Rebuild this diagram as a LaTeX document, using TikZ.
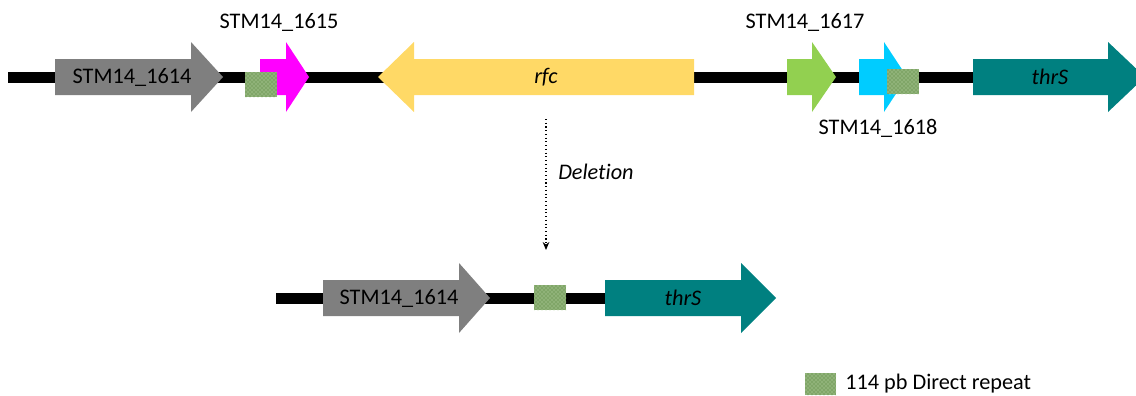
\documentclass[tikz,border=0pt]{standalone}
\usepackage{fontspec}
\setmainfont{Carlito}[Ligatures=CommonOff]
\usetikzlibrary{positioning,calc,patterns,arrows.meta}
\definecolor{genegray}{RGB}{127,127,127}
\definecolor{genemagenta}{RGB}{255,0,255}
\definecolor{geneyellow}{RGB}{255,217,102}
\definecolor{genegreen}{RGB}{146,208,80}
\definecolor{genecyan}{RGB}{0,204,255}
\definecolor{geneteal}{RGB}{0,128,128}
\definecolor{repeatgreen}{RGB}{128,166,104}
\definecolor{repeatlight}{RGB}{196,222,176}
% gene arrow: name, tail x, head base x, tip x, centre y, colour
\newcommand{\genearrow}[6]{%
  \fill[#6] (#2,#5-18) -- (#3,#5-18) -- (#3,#5-35) -- (#4,#5) -- (#3,#5+35)
    -- (#3,#5+18) -- (#2,#5+18) -- cycle;
  \coordinate (#1) at ({(#2+#3)/2},#5);}
\tikzset{
  dna/.style={line width=8.25pt},
  repeatbox/.style={fill=repeatgreen,postaction={pattern=crosshatch dots,pattern color=repeatlight}},
  genelabel/.style={font=\fontsize{16.7}{20}\selectfont,inner sep=0pt},
  geneitalic/.style={genelabel,font=\fontsize{16.7}{20}\selectfont\itshape}
}
\begin{document}
\begin{tikzpicture}[x=0.75pt,y=-0.75pt]
\useasboundingbox (0,0) rectangle (1136,396);
% chromosome before deletion
\coordinate (top_l) at (8,77);
\coordinate (top_r) at (1136,77);
\draw[dna] (top_l) -- (top_r);
\genearrow{g1614}{55}{191}{223}{77}{genegray}
\genearrow{g1615}{260}{286}{309}{77}{genemagenta}
\genearrow{grfc}{694}{414}{378}{77}{geneyellow}
\genearrow{g1617}{787}{812}{836}{77}{genegreen}
\genearrow{g1618}{859}{884}{907}{77}{genecyan}
\genearrow{gthrS}{973}{1108}{1145}{77}{geneteal}
\fill[repeatbox] (245,72) rectangle (277,97);
\fill[repeatbox] (887,69) rectangle (919,94);
\node[genelabel] (l1614) at (132,77) {STM14\_1614};
\node[genelabel] (l1615) at (279,22) {STM14\_1615};
\node[geneitalic] (lrfc) at (546,77) {rfc};
\node[genelabel] (l1617) at (805,22) {STM14\_1617};
\node[genelabel] (l1618) at (878,128) {STM14\_1618};
\node[geneitalic] (lthrS) at (1050,77) {thrS};
% deletion step
\coordinate (del_top) at (546,119);
\coordinate (del_bot) at (546,250);
\draw[dotted,thick,-{Stealth[length=6pt,width=5pt]}] (del_top) -- (del_bot);
\node[geneitalic,right=12 of del_top,yshift=-40] (ldel) {Deletion};
% chromosome after deletion
\coordinate (bot_l) at (276,298);
\coordinate (bot_r) at (610,298);
\draw[dna] (bot_l) -- (bot_r);
\genearrow{b1614}{323}{459}{490}{298}{genegray}
\genearrow{bthrS}{605}{741}{776}{298}{geneteal}
\fill[repeatbox] (534,285) rectangle (566,310);
\node[genelabel] (b1614l) at (399,298) {STM14\_1614};
\node[geneitalic] (bthrSl) at (683,298) {thrS};
% legend
\fill[repeatbox] (805,373) rectangle (836,395);
\node[genelabel,anchor=west] (lrep) at (845,384) {114 pb Direct repeat};
\end{tikzpicture}
\end{document}
